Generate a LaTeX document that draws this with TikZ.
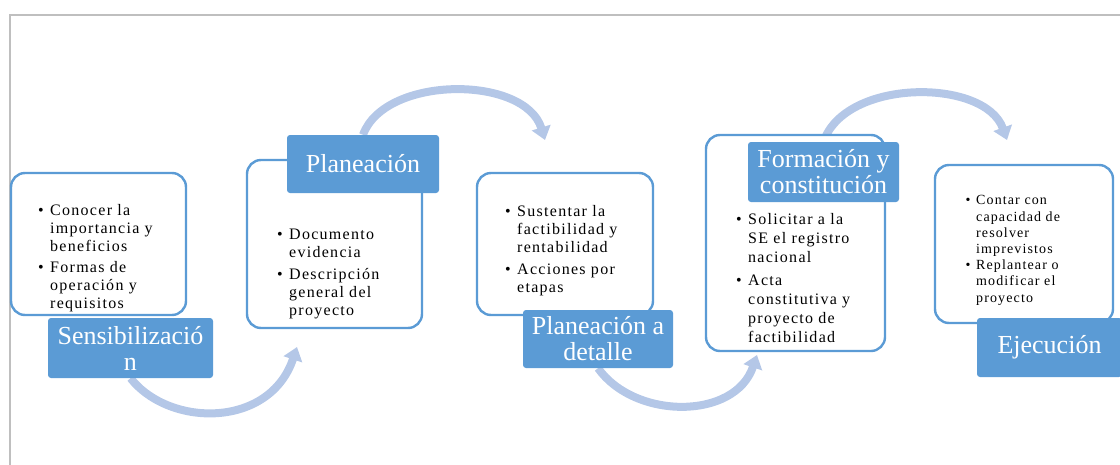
\documentclass[tikz,border=0pt]{standalone}
\usepackage{fontspec}
\setmainfont{Liberation Serif}
\newfontfamily\itemfont[LetterSpace=8]{Liberation Serif}
\usetikzlibrary{arrows.meta,backgrounds}
\definecolor{labblue}{RGB}{91,155,213}
\definecolor{flowblue}{RGB}{180,199,231}
\newcommand{\bul}{\llap{\textbullet\hspace{.4em}}}

\begin{document}
\begin{tikzpicture}[x=1pt,y=-1pt,
    stage/.style={draw=labblue,line width=2.4pt,rounded corners=14pt,fill=white,inner sep=0pt},
    title/.style={fill=labblue,text=white,rounded corners=3pt,inner sep=0pt,align=center,
      font=\fontsize{26}{26}\selectfont},
    items/.style={inner sep=0pt,align=left,anchor=base west,font=\itemfont\fontsize{16}{18}\selectfont},
    flow/.style={draw=flowblue,line width=8pt,-{Triangle[width=19pt,length=13pt]}}]
      \useasboundingbox (0,0) rectangle (1120,464);
      \node[stage,minimum width=175,minimum height=142] (s1) at (98.5,244) {};
      \node[title,minimum width=165,minimum height=60] (t1) at (130.5,348) {Sensibilizació\\n};
      \node[items] (i1) at (50,308) {\bul Conocer la\\importancia y\\beneficios\\[3pt]\bul Formas de\\operación y\\requisitos};
      \node[stage,minimum width=175,minimum height=168] (s2) at (334.5,244) {};
      \node[title,minimum width=152,minimum height=58] (t2) at (363,164) {Planeación};
      \node[items] (i2) at (289,315) {\bul Documento\\evidencia\\[4pt]\bul Descripción\\general del\\proyecto};
      \node[stage,minimum width=176,minimum height=142] (s3) at (565,244) {};
      \node[title,minimum width=150,minimum height=58] (t3) at (598,339) {Planeación a\\detalle};
      \node[items] (i3) at (517,292) {\bul Sustentar la\\factibilidad y\\rentabilidad\\[4pt]\bul Acciones por\\etapas};
      \node[stage,minimum width=179,minimum height=216] (s4) at (795.5,243) {};
      \node[title,minimum width=151,minimum height=60] (t4) at (823.5,172) {Formación y\\constitución};
      \node[items,font=\itemfont\fontsize{16}{18.7}\selectfont] (i4) at (748,342) {\bul Solicitar a la\\SE el registro\\nacional\\[5pt]\bul Acta\\constitutiva y\\proyecto de\\factibilidad};
      \node[stage,minimum width=178,minimum height=158] (s5) at (1024,244) {};
      \node[title,minimum width=145,minimum height=59] (t5) at (1049.5,347.5) {Ejecución};
      \node[items,font=\itemfont\fontsize{14}{16.2}\selectfont] (i5) at (976,302) {\bul Contar con\\capacidad de\\resolver\\imprevistos\\\bul Replantear o\\modificar el\\proyecto};
      \coordinate (e1) at (297,347);
      \coordinate (e2) at (545,140);
      \coordinate (e3) at (757,355);
      \coordinate (e4) at (1007,140);
      \begin{scope}[on background layer]
        \draw[gray!50,line width=2.5pt] (10,466) -- (10,15) -- (1122,15);
        \draw[flow] (t1.south) .. controls (170,428) and (270,428) .. (e1);
        \draw[flow] (t2.north) .. controls (385,75) and (525,75) .. (e2);
        \draw[flow] (t3.south) .. controls (635,420) and (735,420) .. (e3);
        \draw[flow] (t4.north) .. controls (845,78) and (985,78) .. (e4);
      \end{scope}
    \end{tikzpicture}
\end{document}
